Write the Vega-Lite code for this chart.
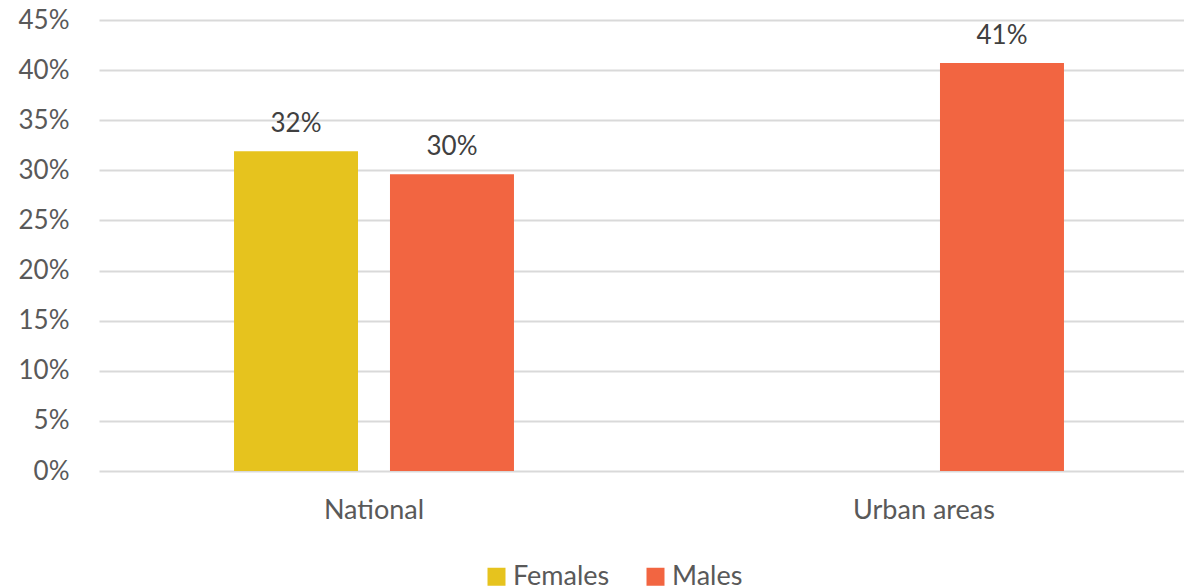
{
  "$schema": "https://vega.github.io/schema/vega-lite/v6.json",
  "autosize": {"type": "none"},
  "width": 1100,
  "height": 451,
  "padding": {"left": 99, "top": 20, "right": 0, "bottom": 116},
  "background": "white",
  "config": {
    "view": {"stroke": null},
    "font": "Lato"
  },
  "data": {
    "values": [
      {"region": "National", "sex": "Females", "value": 0.319},
      {"region": "National", "sex": "Males", "value": 0.296},
      {"region": "Urban areas", "sex": "Males", "value": 0.407}
    ]
  },
  "encoding": {
    "x": {
      "field": "region",
      "type": "nominal",
      "sort": ["National", "Urban areas"],
      "scale": {"paddingInner": 0.491, "paddingOuter": 0.2455},
      "axis": {
        "title": null,
        "labelAngle": 0,
        "labelFontSize": 27,
        "labelColor": "#595959",
        "labelPadding": 26,
        "ticks": false,
        "domain": false
      }
    },
    "xOffset": {
      "field": "sex",
      "type": "nominal",
      "scale": {"domain": ["Females", "Males"], "paddingInner": 0.205, "paddingOuter": 0}
    },
    "y": {
      "field": "value",
      "type": "quantitative",
      "scale": {"domain": [0, 0.45]},
      "axis": {
        "title": null,
        "format": ".0%",
        "values": [0, 0.05, 0.1, 0.15, 0.2, 0.25, 0.3, 0.35, 0.4, 0.45],
        "labelFontSize": 26,
        "labelColor": "#595959",
        "labelPadding": 30,
        "ticks": false,
        "domain": false,
        "grid": true,
        "gridColor": "#d9d9d9",
        "gridWidth": 2
      }
    }
  },
  "layer": [
    {
      "mark": {"type": "bar"},
      "encoding": {
        "color": {
          "field": "sex",
          "type": "nominal",
          "scale": {"domain": ["Females", "Males"], "range": ["#E6C31E", "#F26541"]},
          "legend": {
            "title": null,
            "orient": "none",
            "direction": "horizontal",
            "legendX": 384,
            "legendY": 543,
            "symbolType": "square",
            "symbolSize": 324,
            "symbolStrokeWidth": 0,
            "labelFontSize": 27,
            "labelColor": "#595959",
            "labelOffset": 3,
            "columnPadding": 32
          }
        }
      }
    },
    {
      "mark": {"type": "text", "dy": -19, "baseline": "alphabetic", "fontSize": 26, "color": "#404040"},
      "encoding": {
        "text": {"field": "value", "type": "quantitative", "format": ".0%"}
      }
    }
  ]
}
